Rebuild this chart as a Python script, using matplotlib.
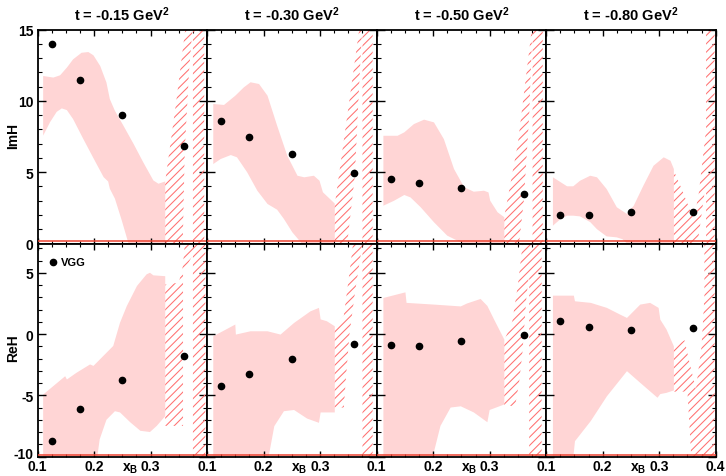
import matplotlib.pyplot as plt
from matplotlib.ticker import FixedLocator, MultipleLocator
from matplotlib.transforms import ScaledTranslation

plt.rcParams['font.family'] = 'Liberation Sans'
plt.rcParams['font.weight'] = 'bold'
plt.rcParams['axes.unicode_minus'] = False
plt.rcParams['mathtext.fontset'] = 'custom'
plt.rcParams['mathtext.rm'] = 'Liberation Sans:bold'
plt.rcParams['mathtext.it'] = 'Liberation Sans:bold'
plt.rcParams['mathtext.bf'] = 'Liberation Sans:bold'
plt.rcParams['hatch.linewidth'] = 0.75

PINK = "#ffd5d5"
HATCH = "#ff7070"
RED = "#ee4433"

T_LABELS = ["-0.15", "-0.30", "-0.50", "-0.80"]
XB = [0.125, 0.175, 0.25, 0.36]

# VGG model points
IMH_VGG = [[14.0, 11.45, 9.0, 6.8],
           [8.6, 7.5, 6.25, 4.95],
           [4.5, 4.25, 3.9, 3.5],
           [2.0, 2.0, 2.2, 2.2]]
REH_VGG = [[-8.7, -6.1, -3.75, -1.75],
           [-4.2, -3.3, -2.0, -0.8],
           [-0.9, -0.95, -0.6, -0.05],
           [1.1, 0.6, 0.35, 0.5]]

# fit bands, (xB, value) along the upper and lower edges
IMH_BAND_UP = [
    [(0.110, 11.74), (0.128, 11.63), (0.140, 11.79), (0.152, 12.33), (0.163, 12.91), (0.178, 13.37),
     (0.190, 13.42), (0.199, 13.19), (0.211, 12.44), (0.222, 11.28), (0.228, 10.12), (0.237, 9.30),
     (0.252, 8.26), (0.270, 6.98), (0.287, 5.70), (0.305, 4.42), (0.314, 4.19), (0.326, 4.35)],
    [(0.111, 9.78), (0.130, 9.71), (0.150, 10.36), (0.165, 10.94), (0.177, 11.30), (0.192, 11.18),
     (0.207, 10.36), (0.224, 8.26), (0.242, 6.15), (0.260, 4.75), (0.272, 4.64), (0.289, 4.75),
     (0.299, 4.40), (0.305, 3.59), (0.326, 2.80)],
    [(0.112, 7.55), (0.137, 7.55), (0.149, 7.79), (0.166, 8.37), (0.184, 8.68), (0.2015, 8.49),
     (0.219, 7.32), (0.237, 5.22), (0.255, 3.94), (0.272, 3.63), (0.290, 3.70), (0.298, 3.58),
     (0.301, 3.00), (0.314, 2.19), (0.326, 1.84)],
    [(0.112, 4.64), (0.137, 4.01), (0.148, 4.01), (0.160, 4.40), (0.178, 4.75), (0.190, 4.64),
     (0.207, 3.82), (0.225, 2.54), (0.243, 2.07), (0.255, 2.65), (0.272, 4.05), (0.290, 5.45),
     (0.308, 6.04), (0.320, 5.80), (0.326, 5.22)],
]
IMH_BAND_LO = [
    [(0.110, 7.56), (0.122, 8.49), (0.134, 9.23), (0.143, 9.47), (0.152, 9.35), (0.163, 8.72),
     (0.181, 7.33), (0.199, 5.98), (0.217, 4.65), (0.225, 4.35), (0.228, 3.84), (0.237, 3.14),
     (0.249, 1.63), (0.261, 0.0), (0.268, -1.0), (0.326, -1.0)],
    [(0.111, 5.57), (0.124, 5.92), (0.142, 6.20), (0.153, 6.04), (0.171, 4.99), (0.189, 3.70),
     (0.207, 2.77), (0.224, 2.37), (0.236, 1.72), (0.251, 0.78), (0.266, 0.08), (0.272, -1.0),
     (0.326, -1.0)],
    [(0.112, 2.65), (0.131, 3.00), (0.149, 3.40), (0.160, 3.23), (0.178, 2.54), (0.2015, 1.49),
     (0.225, 0.55), (0.249, 0.08), (0.256, -1.0), (0.326, -1.0)],
    [(0.112, 1.25), (0.125, 1.70), (0.137, 1.95), (0.148, 1.95), (0.160, 1.90), (0.178, 1.50),
     (0.190, 1.00), (0.207, 0.50), (0.225, 0.43), (0.235, 0.30), (0.243, 0.0), (0.250, -1.0),
     (0.326, -1.0)],
]
IMH_HATCH_UP = [
    [(0.326, 4.35), (0.345, 9.8), (0.363, 15.5), (0.395, 15.5)],
    [(0.326, 2.7), (0.350, 9.5), (0.371, 15.5), (0.393, 15.5)],
    [(0.326, 1.9), (0.350, 7.0), (0.376, 15.5), (0.394, 15.5)],
    [(0.326, 5.1), (0.340, 3.8), (0.355, 2.3), (0.362, 1.8), (0.370, 3.5), (0.383, 8.0),
     (0.383, 15.5), (0.398, 15.5)],
]
IMH_HATCH_LO = [
    [(0.326, -1.0), (0.355, -1.0), (0.357, 0.0), (0.3605, 6.5), (0.368, 12.0), (0.375, 15.5),
     (0.375, -1.0), (0.395, -1.0)],
    [(0.326, -1.0), (0.346, -1.0), (0.348, 0.0), (0.3616, 4.8), (0.369, 11.0), (0.375, 15.5),
     (0.375, -1.0), (0.393, -1.0)],
    [(0.326, -1.0), (0.350, -1.0), (0.352, 0.0), (0.3605, 3.0), (0.370, 9.0), (0.376, 15.5),
     (0.376, -1.0), (0.394, -1.0)],
    [(0.326, -1.0), (0.365, -1.0), (0.368, 0.0), (0.380, 3.5), (0.383, 4.0), (0.383, -1.0),
     (0.398, -1.0)],
]

REH_BAND_UP = [
    [(0.110, -4.94), (0.149, -3.44), (0.152, -3.71), (0.169, -3.16), (0.193, -2.48), (0.199, -2.60),
     (0.234, -0.97), (0.246, 0.93), (0.258, 2.29), (0.276, 3.93), (0.293, 4.88), (0.299, 5.01),
     (0.305, 4.80), (0.326, 4.73)],
    [(0.111, -0.18), (0.150, 0.78), (0.151, -0.04), (0.177, 0.23), (0.207, 0.23), (0.230, -0.04),
     (0.254, 0.91), (0.283, 1.86), (0.298, 2.14), (0.301, 1.20), (0.312, 1.05), (0.326, 0.64)],
    [(0.112, 2.95), (0.151, 3.41), (0.153, 2.55), (0.2015, 2.41), (0.249, 2.26), (0.260, 2.50),
     (0.284, 2.87), (0.296, 2.30), (0.308, 1.18), (0.326, -0.45)],
    [(0.112, 3.14), (0.149, 3.14), (0.151, 2.68), (0.179, 2.55), (0.2075, 2.14), (0.231, 1.59),
     (0.243, 1.32), (0.2665, 2.41), (0.284, 2.55), (0.299, 2.14), (0.302, 1.18), (0.313, 0.37),
     (0.326, -1.00)],
]
REH_BAND_LO = [
    [(0.110, -11.0), (0.203, -11.0), (0.210, -8.6), (0.222, -7.0), (0.237, -6.3), (0.246, -6.4),
     (0.264, -7.2), (0.282, -7.9), (0.299, -8.0), (0.311, -7.5), (0.326, -6.7)],
    [(0.111, -11.0), (0.205, -11.0), (0.219, -7.52), (0.236, -6.3), (0.254, -6.2), (0.277, -6.9),
     (0.298, -7.25), (0.301, -6.4), (0.326, -6.4)],
    [(0.112, -11.0), (0.194, -11.0), (0.213, -7.5), (0.231, -6.0), (0.249, -5.9), (0.272, -6.4),
     (0.296, -7.2), (0.300, -6.2), (0.326, -5.75)],
    [(0.112, -11.0), (0.146, -11.0), (0.151, -8.75), (0.179, -7.1), (0.2075, -5.08), (0.243, -3.03),
     (0.2665, -3.98), (0.297, -5.2), (0.302, -4.9), (0.313, -4.8), (0.326, -4.6)],
]
REH_HATCH_UP = [
    [(0.326, 4.04), (0.350, 4.2), (0.357, 5.5), (0.362, 8.0), (0.397, 8.0)],
    [(0.326, 0.7), (0.342, 1.5), (0.352, 5.0), (0.360, 8.0), (0.393, 8.0)],
    [(0.326, -0.5), (0.340, 1.0), (0.350, 4.0), (0.360, 8.0), (0.392, 8.0)],
    [(0.326, -1.0), (0.345, -0.5), (0.352, -2.0), (0.365, -4.5), (0.375, -1.0), (0.380, 3.0),
     (0.380, 8.0), (0.398, 8.0)],
]
REH_HATCH_LO = [
    [(0.326, -7.5), (0.3575, -7.5), (0.3575, 5.0), (0.375, 6.5), (0.375, -11.0), (0.397, -11.0)],
    [(0.326, -6.0), (0.342, -6.0), (0.345, -4.0), (0.352, 0.0), (0.362, 3.5), (0.372, 6.5),
     (0.375, 7.5), (0.375, -11.0), (0.393, -11.0)],
    [(0.326, -5.8), (0.345, -5.9), (0.352, -4.0), (0.358, -1.5), (0.365, 3.0), (0.370, 5.0),
     (0.370, -11.0), (0.392, -11.0)],
    [(0.326, -4.7), (0.350, -4.7), (0.358, -11.0), (0.398, -11.0)],
]


def _fill_band(ax, upper, lower, **kw):
    ux, uy = zip(*upper)
    lx, ly = zip(*lower)
    ax.fill(list(ux) + list(lx[::-1]), list(uy) + list(ly[::-1]), **kw)


def _style_axes(ax, ylim, ymajor, show_x, show_y, last_col):
    ax.set_xlim(0.1, 0.4)
    ax.set_ylim(*ylim)
    ax.xaxis.set_major_locator(FixedLocator([0.1, 0.2, 0.3, 0.4]))
    ax.xaxis.set_minor_locator(MultipleLocator(0.025))
    ax.yaxis.set_major_locator(FixedLocator(ymajor))
    ax.yaxis.set_minor_locator(MultipleLocator(1))
    ax.tick_params(which='both', direction='in', top=True, right=True, colors='black')
    ax.tick_params(axis='x', which='major', length=4, width=1.0, pad=2, labelsize=10)
    ax.tick_params(axis='x', which='minor', length=2.2, width=0.8)
    ax.tick_params(axis='y', which='major', length=6, width=1.0, pad=3, labelsize=10)
    ax.tick_params(axis='y', which='minor', length=3, width=0.8)
    if show_x:
        labels = ["0.1", "0.2", "0.3", "0.4" if last_col else ""]
        ax.set_xticklabels(labels)
        ax.text(0.545, -0.066, r"$x_{B}$", transform=ax.transAxes, ha='center', va='baseline', fontsize=10)
    else:
        ax.set_xticklabels([])
    if show_y:
        ax.set_yticklabels([f"{v:g}" for v in ymajor])
    else:
        ax.set_yticklabels([])
    for s in ax.spines.values():
        s.set_linewidth(1.3)


fig = plt.figure(figsize=(7.26, 4.77), dpi=100)
gs = fig.add_gridspec(2, 4, left=37.5 / 726, right=715.7 / 726, top=1 - 30.5 / 477,
                      bottom=1 - 457.5 / 477, wspace=0, hspace=0, height_ratios=[214, 213])

for col in range(4):
    ax_im = fig.add_subplot(gs[0, col])
    ax_re = fig.add_subplot(gs[1, col])

    # ImH row
    _fill_band(ax_im, IMH_BAND_UP[col], IMH_BAND_LO[col], facecolor=PINK, lw=0, zorder=1)
    _fill_band(ax_im, IMH_HATCH_UP[col], IMH_HATCH_LO[col], facecolor='none', edgecolor=HATCH,
               lw=0, hatch='////', zorder=2)
    ax_im.axhline(0.15, color=RED, lw=1.1, zorder=3)
    ax_im.plot(XB, IMH_VGG[col], 'o', color='black', ms=4.5, zorder=5)
    _style_axes(ax_im, (0, 15), [0, 5, 10, 15], False, col == 0, col == 3)
    ax_im.set_title(rf"t = {T_LABELS[col]} GeV$^{{2}}$", fontsize=10.5, fontweight='bold', pad=7)

    # ReH row
    _fill_band(ax_re, REH_BAND_UP[col], REH_BAND_LO[col], facecolor=PINK, lw=0, zorder=1)
    _fill_band(ax_re, REH_HATCH_UP[col], REH_HATCH_LO[col], facecolor='none', edgecolor=HATCH,
               lw=0, hatch='////', zorder=2)
    ax_re.axhline(-9.85, color=RED, lw=1.1, zorder=3)
    pts, = ax_re.plot(XB, REH_VGG[col], 'o', color='black', ms=4.5, zorder=5, label='VGG')
    _style_axes(ax_re, (-10, 7.4), [-10, -5, 0, 5], True, col == 0, col == 3)
    if col == 0:
        ax_re.legend(handles=[pts], loc='upper left', bbox_to_anchor=(0.053, 0.945), frameon=False,
                     handlelength=0.8, handletextpad=0.3, borderaxespad=0, borderpad=0.2,
                     prop={'weight': 'bold', 'size': 8})
        # lift the lowest y label a little so it clears the 0.1 below it
        lowest = ax_re.get_yticklabels()[0]
        lowest.set_transform(lowest.get_transform() + ScaledTranslation(0, 3 / 72, fig.dpi_scale_trans))

fig.text(13.5 / 726, 1 - 136 / 477, "ImH", rotation=90, ha='center', va='center', fontsize=10)
fig.text(13.5 / 726, 1 - 348 / 477, "ReH", rotation=90, ha='center', va='center', fontsize=10)

fig.savefig("out.png", dpi=100)
